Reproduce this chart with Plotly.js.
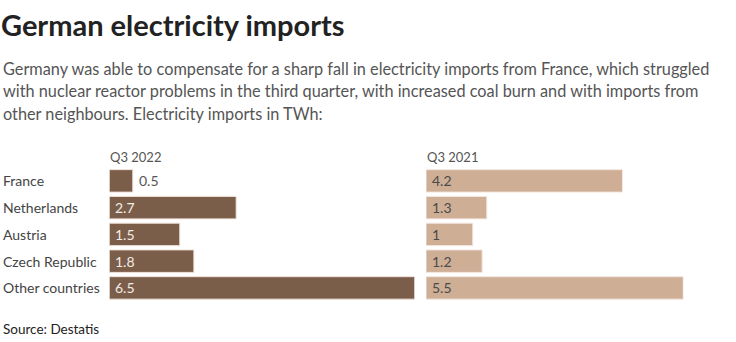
<!DOCTYPE html>
<html>
<head>
<meta charset="utf-8">
<script src="https://cdn.plot.ly/plotly-3.0.1.min.js"></script>
<style>html,body{margin:0;padding:0;background:#fff;}#chart{width:736px;height:342px;}</style>
</head>
<body>
<div id="chart"></div>
<script>
const categories = ["France", "Netherlands", "Austria", "Czech Republic", "Other countries"];
const q3_2022 = [0.5, 2.7, 1.5, 1.8, 6.5];
const q3_2021 = [4.2, 1.3, 1, 1.2, 5.5];
const seriesNames = ["Q3 2022", "Q3 2021"];
const subtitleLines = [
  "Germany was able to compensate for a sharp fall in electricity imports from France, which struggled",
  "with nuclear reactor problems in the third quarter, with increased coal burn and with imports from",
  "other neighbours. Electricity imports in TWh:"
];

const W = 736, H = 342;
const FONT = "Lato, 'Source Sans Pro', 'Open Sans', sans-serif";
const px = v => v / W;
const py = v => 1 - v / H;

const dark = "#7b5e4a", light = "#cfae96";

const traces = [
  {type: "bar", orientation: "h", y: categories, x: q3_2022, xaxis: "x", yaxis: "y",
   marker: {color: dark, line: {color: "#efe2da", width: 1}}, hoverinfo: "x+y", name: seriesNames[0]},
  {type: "bar", orientation: "h", y: categories, x: q3_2021, xaxis: "x2", yaxis: "y2",
   marker: {color: light, line: {color: "#f3e8e1", width: 1}}, hoverinfo: "x+y", name: seriesNames[1]}
];

const annotations = [];
function addLabels(vals, xref, yref, insideColor, outsideColor) {
  vals.forEach((v, i) => {
    const inside = v >= 1;
    annotations.push({
      xref: xref, yref: yref, x: inside ? 0 : v, y: categories[i],
      text: String(v), showarrow: false, xanchor: "left", yanchor: "middle",
      xshift: 4, font: {family: FONT, size: 14, color: inside ? insideColor : outsideColor}
    });
  });
}
addLabels(q3_2022, "x", "y", "#f2ebe6", "#555555");
addLabels(q3_2021, "x2", "y2", "#4a4a4a", "#555555");

categories.forEach(c => {
  annotations.push({xref: "paper", yref: "y", x: px(1), y: c, text: c, showarrow: false,
    xanchor: "left", yanchor: "middle", font: {family: FONT, size: 14, color: "#444444"}});
});

annotations.push({xref: "x", yref: "paper", x: 0, y: py(157), text: seriesNames[0], showarrow: false,
  xanchor: "left", yanchor: "middle", xshift: -1, font: {family: FONT, size: 13, color: "#555555"}});
annotations.push({xref: "x2", yref: "paper", x: 0, y: py(157), text: seriesNames[1], showarrow: false,
  xanchor: "left", yanchor: "middle", xshift: -1, font: {family: FONT, size: 13, color: "#555555"}});

const subY = [68, 90.5, 113];
subtitleLines.forEach((t, i) => {
  annotations.push({xref: "paper", yref: "paper", x: px(1), y: py(subY[i]), xanchor: "left", yanchor: "middle",
    align: "left", showarrow: false, text: t,
    font: {family: FONT, size: 16.3, color: "#555555"}});
});

annotations.push({xref: "paper", yref: "paper", x: px(1), y: py(329), xanchor: "left", yanchor: "middle",
  showarrow: false, text: "Source: Destatis", font: {family: FONT, size: 13.5, color: "#222222"}});

const yTop = 167.5, yBot = 301.3;
const layout = {
  width: W, height: H, margin: {l: 0, r: 0, t: 0, b: 0},
  paper_bgcolor: "#fff", plot_bgcolor: "#fff", showlegend: false,
  title: {text: "<b>German electricity imports</b>", x: px(1), xanchor: "left", y: py(26), yanchor: "middle",
    font: {family: FONT, size: 29, color: "#222222"}},
  bargap: 0.16,
  xaxis: {domain: [px(109.3), px(414.7)], range: [0, 6.5], visible: false, fixedrange: true},
  xaxis2: {domain: [px(426), px(683.3)], range: [0, 5.5], visible: false, fixedrange: true},
  yaxis: {domain: [py(yBot), py(yTop)], autorange: "reversed", visible: false, anchor: "x"},
  yaxis2: {domain: [py(yBot), py(yTop)], autorange: "reversed", visible: false, anchor: "x2"},
  annotations: annotations
};

Plotly.newPlot("chart", traces, layout, {displayModeBar: false, staticPlot: true});
</script>
</body>
</html>
